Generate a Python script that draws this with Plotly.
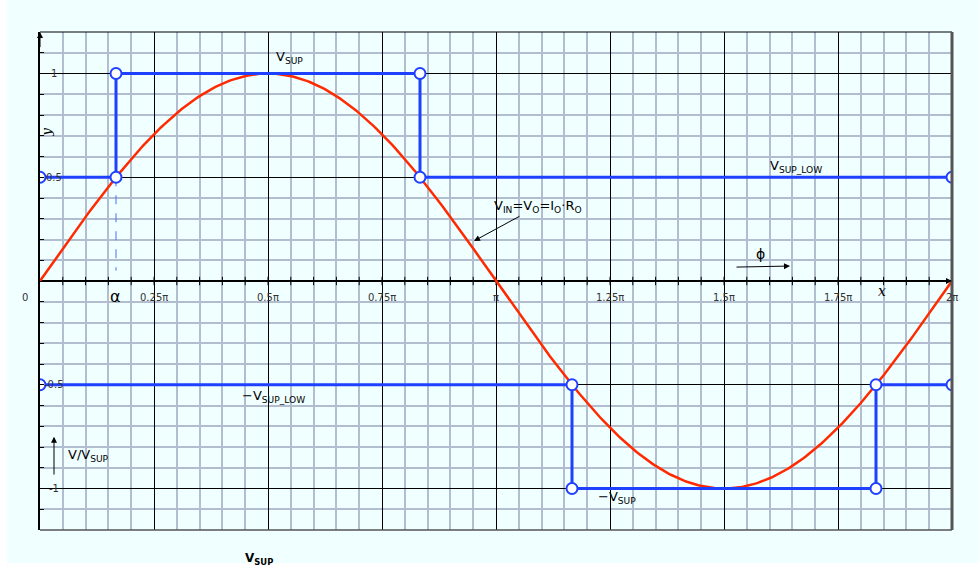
import numpy as np
import plotly.graph_objects as go

PI = np.pi
# ---- data ----
alpha = PI / 6
curve_x = np.linspace(0, 2 * PI, 400)
curve_y = np.sin(curve_x)

pos_x = [0, alpha, alpha, 5 * PI / 6, 5 * PI / 6, 2 * PI]
pos_y = [0.5, 0.5, 1, 1, 0.5, 0.5]
neg_x = [0, 7 * PI / 6, 7 * PI / 6, 11 * PI / 6, 11 * PI / 6, 2 * PI]
neg_y = [-0.5, -0.5, -1, -1, -0.5, -0.5]
dash_x = [alpha, alpha]
dash_y = [0.5, 0.05]

xtick_vals = [0.25 * PI, 0.5 * PI, 0.75 * PI, PI, 1.25 * PI, 1.5 * PI, 1.75 * PI, 2 * PI]
xtick_text = ["0.25π", "0.5π", "0.75π", "π", "1.25π", "1.5π", "1.75π", "2π"]
ytick_vals = [1, 0.5, -0.5, -1]
ytick_text = ["1", "0.5", "-0.5", "-1"]
minor_x = np.arange(1, 40) * PI / 20

BLUE = "#1f40ff"
RED = "#ff2a00"
BG = "#f0ffff"
GRID = "#b2bdd0"
FONT = "DejaVu Sans"

fig = go.Figure()

# x-axis tick stubs along y=0
fig.add_trace(go.Scatter(x=minor_x, y=[0] * len(minor_x), mode="markers",
                         marker=dict(symbol="line-ns", size=6, line=dict(width=1, color="black")),
                         hoverinfo="skip", showlegend=False))

fig.add_trace(go.Scatter(x=dash_x, y=dash_y, mode="lines",
                         line=dict(color="#4a6cff", width=1, dash="dash"),
                         showlegend=False))
fig.add_trace(go.Scatter(x=curve_x, y=curve_y, mode="lines",
                         line=dict(color=RED, width=2.5), showlegend=False))
for xs, ys in [(pos_x, pos_y), (neg_x, neg_y)]:
    fig.add_trace(go.Scatter(x=xs, y=ys, mode="lines+markers",
                             line=dict(color=BLUE, width=3),
                             marker=dict(symbol="circle", size=11, color="white",
                                         line=dict(color=BLUE, width=2)),
                             showlegend=False))

ann = []
for v, t in zip(xtick_vals, xtick_text):
    ann.append(dict(x=v, y=0, yshift=-16, text=t, showarrow=False,
                    font=dict(size=10, color="#333", family=FONT)))
ann.append(dict(x=0, y=0, xshift=-15, yshift=-16, text="0", showarrow=False,
                font=dict(size=10, color="#333", family=FONT)))
for v, t in zip(ytick_vals, ytick_text):
    ann.append(dict(x=0, y=v, xshift=14, text=t, showarrow=False,
                    font=dict(size=10, color="#333", family=FONT)))

def txt(x, y, t, size=13, **kw):
    d = dict(x=x, y=y, text=t, showarrow=False, font=dict(size=size, color="black", family=FONT))
    d.update(kw)
    ann.append(d)

txt(1.722, 1.075, "V<sub>SUP</sub>")
txt(5.209, 0.55, "V<sub>SUP_LOW</sub>")
txt(1.612, -0.555, "−V<sub>SUP_LOW</sub>")
txt(3.975, -1.045, "−V<sub>SUP</sub>")
txt(0.331, -0.84, "V/V<sub>SUP</sub>")
txt(0.52, -0.075, "α", size=16)
txt(4.967, 0.13, "ϕ", size=14)
txt(5.803, -0.05, "<i>x</i>", font=dict(size=14, color="black", family="DejaVu Serif"))
txt(0.048, 0.72, "<i>y</i>", textangle=-90,
    font=dict(size=13, color="black", family="DejaVu Serif"))
ann.append(dict(x=0.2226, y=-0.038, xref="paper", yref="paper", yanchor="top",
                text="<b>V<sub>SUP</sub></b>", showarrow=False,
                font=dict(size=12, color="black", family=FONT)))

# formula with arrow
ann.append(dict(x=2.99, y=0.193, ax=3.43, ay=0.36, axref="x", ayref="y",
                text="V<sub>IN</sub>=V<sub>O</sub>=I<sub>O</sub>·R<sub>O</sub>",
                showarrow=True, arrowhead=2, arrowsize=1.2, arrowwidth=1, arrowcolor="black",
                font=dict(size=13, color="black", family=FONT)))
# phi arrow
ann.append(dict(x=5.167, y=0.072, ax=4.788, ay=0.067, axref="x", ayref="y", text="",
                showarrow=True, arrowhead=2, arrowsize=1.2, arrowwidth=1, arrowcolor="black"))
# V/Vsup arrow
ann.append(dict(x=0.0965, y=-0.75, ax=0.0965, ay=-0.94, axref="x", ayref="y", text="",
                showarrow=True, arrowhead=2, arrowsize=1.2, arrowwidth=1, arrowcolor="black"))
# axis arrows
ann.append(dict(x=2 * PI, y=0, ax=2 * PI - 0.1, ay=0, axref="x", ayref="y", text="",
                showarrow=True, arrowhead=2, arrowsize=1.2, arrowwidth=1, arrowcolor="black"))
ann.append(dict(x=0, y=1.2, ax=0, ay=1.12, axref="x", ayref="y", text="",
                showarrow=True, arrowhead=2, arrowsize=1.2, arrowwidth=1, arrowcolor="black"))

shapes = [
    dict(type="rect", xref="paper", yref="paper", x0=-0.0362, x1=1.05, y0=-0.0663, y1=1.1,
         fillcolor=BG, line=dict(width=0), layer="below"),
    dict(type="line", xref="paper", yref="paper", x0=0, x1=1, y0=1, y1=1,
         line=dict(color="black", width=1.2)),
    dict(type="line", xref="paper", yref="paper", x0=0, x1=1, y0=0, y1=0,
         line=dict(color="#555", width=1.5)),
    dict(type="line", xref="paper", yref="paper", x0=1, x1=1, y0=0, y1=1,
         line=dict(color="#555", width=3)),
]

fig.update_layout(
    width=979, height=566,
    margin=dict(l=40, r=27, t=32, b=36),
    paper_bgcolor="white", plot_bgcolor=BG,
    annotations=ann, shapes=shapes,
    xaxis=dict(range=[0, 2 * PI], tick0=0, dtick=PI / 4, showgrid=True, gridcolor="black",
               gridwidth=1, showticklabels=False, ticks="", zeroline=False,
               minor=dict(dtick=PI / 20, tick0=0, showgrid=True, gridcolor=GRID, gridwidth=1.5),
               showline=False),
    yaxis=dict(range=[-1.2, 1.2], tick0=0, dtick=0.5, showgrid=True, gridcolor="black",
               gridwidth=1, showticklabels=False, ticks="inside", ticklen=4, tickcolor="black",
               zeroline=True, zerolinecolor="black", zerolinewidth=1.5,
               minor=dict(dtick=0.1, tick0=0, showgrid=True, gridcolor=GRID, gridwidth=1.5,
                          ticks="inside", ticklen=4, tickcolor="black"),
               showline=True, linecolor="black", linewidth=1.5),
)

fig.write_html("out.html")
